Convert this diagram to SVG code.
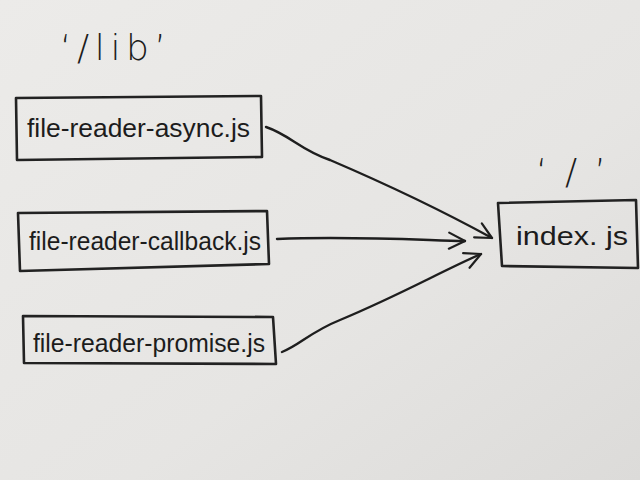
<svg xmlns="http://www.w3.org/2000/svg" width="640" height="480" viewBox="0 0 640 480">
<defs>
<linearGradient id="paper" x1="0" y1="0" x2="1" y2="1">
<stop offset="0" stop-color="#ecebe9"/>
<stop offset="0.6" stop-color="#e6e5e3"/>
<stop offset="1" stop-color="#dcdbd9"/>
</linearGradient>
<marker id="arr" viewBox="0 0 20 20" refX="18" refY="10" markerWidth="20" markerHeight="20" markerUnits="userSpaceOnUse" orient="auto">
<path d="M2,2 L18,10 L2,18" fill="none" stroke="#1e1e1e" stroke-width="2.2" stroke-linecap="round" stroke-linejoin="round"/>
</marker>
<style>
.box{fill:none;stroke:#222;stroke-width:2.6;stroke-linejoin:round}
.lbl{font-family:"Liberation Sans","DejaVu Sans",sans-serif;font-size:26px;fill:#1c1c1c}
.cap{font-family:"DejaVu Sans","Liberation Sans",sans-serif;font-weight:200;font-size:36px;fill:#1c1c1c}
.con{fill:none;stroke:#1e1e1e;stroke-width:2.4;stroke-linecap:round}
</style>
</defs>
<rect width="640" height="480" fill="url(#paper)"/>
<text class="cap" x="60" y="60" textLength="106" lengthAdjust="spacing">‘<tspan dy="0">/lib</tspan>’</text>
<text class="cap" x="536" y="184" textLength="70" lengthAdjust="spacing">‘/’</text>
<g id="async">
<path class="box" d="M16,98 L261,96 L262,157 L17,160 Z"/>
<text class="lbl" x="27" y="137" textLength="223" lengthAdjust="spacingAndGlyphs">file-reader-async.js</text>
</g>
<g id="callback">
<path class="box" d="M18,213 L267,211 L269,264 L20,271 Z"/>
<text class="lbl" x="29" y="250" textLength="232" lengthAdjust="spacingAndGlyphs">file-reader-callback.js</text>
</g>
<g id="promise">
<path class="box" d="M23,316 L273,317 L276,364 L24,363 Z"/>
<text class="lbl" x="33" y="352" textLength="232" lengthAdjust="spacingAndGlyphs">file-reader-promise.js</text>
</g>
<g id="index">
<path class="box" d="M498,203 L636,200 L638,268 L502,266 Z"/>
<text class="lbl" x="516" y="245" textLength="112" lengthAdjust="spacingAndGlyphs">index. js</text>
</g>
<g id="connectors">
<path class="con" marker-end="url(#arr)" d="M266,127 C290,135 300,150 330,160 C400,190 450,215 492,238"/>
<path class="con" marker-end="url(#arr)" d="M277,239 C350,236 420,240 465,241"/>
<path class="con" marker-end="url(#arr)" d="M282,352 C300,345 310,332 340,320 C400,295 440,272 481,254"/>
</g>
</svg>
